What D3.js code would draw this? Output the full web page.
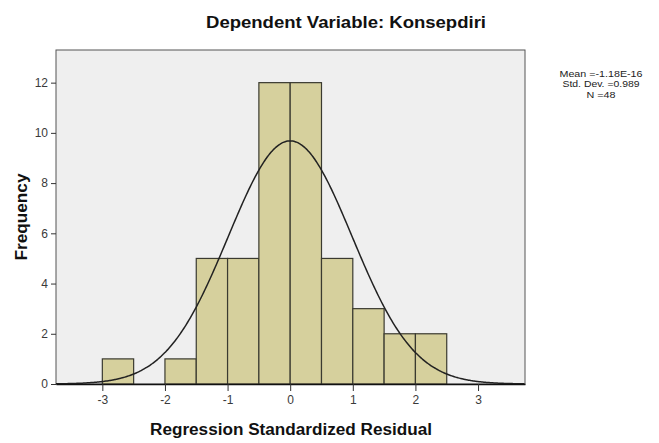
<!DOCTYPE html>
<html><head><meta charset="utf-8">
<script src="https://cdn.jsdelivr.net/npm/d3@7"></script>
<style>body{margin:0;background:#fff;}svg{display:block;font-family:Arial,"Liberation Sans",sans-serif;}</style>
</head><body>
<svg id="c" width="659" height="443"></svg>
<script>
const binStarts = [-3, -2.5, -2, -1.5, -1, -0.5, 0, 0.5, 1, 1.5, 2];
const binCounts = [1, 0, 1, 5, 5, 12, 12, 5, 3, 2, 2];
const binWidth = 0.5;
const xTicks = [-3, -2, -1, 0, 1, 2, 3];
const yTicks = [0, 2, 4, 6, 8, 10, 12];
const statMean = -1.18e-16, statSD = 0.989, statN = 48;
const statLines = ["Mean =-1.18E-16", "Std. Dev. =0.989", "N =48"];
const titleText = "Dependent Variable: Konsepdiri";
const xLabel = "Regression Standardized Residual";
const yLabel = "Frequency";

const svg = d3.select("#c");
const L = 56, R = 525, T = 50, B = 384;
const x = d3.scaleLinear().domain([-3.74, 3.75]).range([L, R]);
const y = d3.scaleLinear().domain([0, 13.3]).range([B, T]);

svg.append("rect").attr("x", L).attr("y", T).attr("width", R - L).attr("height", B - T)
  .attr("fill", "#efefef").attr("stroke", "#555").attr("stroke-width", 1);

svg.selectAll("rect.bar").data(binStarts.map((s, i) => ({s, c: binCounts[i]})).filter(d => d.c > 0))
  .enter().append("rect").attr("class", "bar")
  .attr("x", d => x(d.s)).attr("y", d => y(d.c))
  .attr("width", d => x(d.s + binWidth) - x(d.s)).attr("height", d => y(0) - y(d.c))
  .attr("fill", "#d6d09d").attr("stroke", "#3a3a30").attr("stroke-width", 1.2);

// normal curve from stated mean, sd, N
const pts = d3.range(-3.74, 3.751, 0.02);
const pdf = v => statN * binWidth * Math.exp(-0.5 * Math.pow((v - statMean) / statSD, 2)) / (statSD * Math.sqrt(2 * Math.PI));
svg.append("path").datum(pts)
  .attr("d", d3.line().x(v => x(v)).y(v => y(pdf(v))).curve(d3.curveBasis))
  .attr("fill", "none").attr("stroke", "#222").attr("stroke-width", 1.5);

const fmt = d => String(d);
const xa = svg.append("g").attr("transform", `translate(0,${B})`)
  .call(d3.axisBottom(x).tickValues(xTicks).tickSize(7).tickSizeOuter(0).tickFormat(fmt));
xa.select(".domain").attr("stroke", "#111").attr("stroke-width", 1.6);
xa.selectAll(".tick line").attr("stroke", "#333");
xa.selectAll(".tick text").attr("font-size", 12).attr("fill", "#3a3a3a").attr("dy", "0.85em");

const ya = svg.append("g").attr("transform", `translate(${L},0)`)
  .call(d3.axisLeft(y).tickValues(yTicks).tickSize(5).tickSizeOuter(0).tickFormat(fmt));
ya.select(".domain").remove();
ya.selectAll(".tick line").attr("stroke", "#333");
ya.selectAll(".tick text").attr("font-size", 12).attr("fill", "#3a3a3a");

svg.append("text").attr("x", 346).attr("y", 28).attr("text-anchor", "middle")
  .attr("font-size", 16).attr("font-weight", "bold").attr("fill", "#111")
  .attr("textLength", 280).attr("lengthAdjust", "spacingAndGlyphs").text(titleText);
svg.append("text").attr("x", 291).attr("y", 435).attr("text-anchor", "middle")
  .attr("font-size", 16).attr("font-weight", "bold").attr("fill", "#111")
  .attr("textLength", 282).attr("lengthAdjust", "spacingAndGlyphs").text(xLabel);
svg.append("text").attr("transform", `translate(27,${(T + B) / 2}) rotate(-90)`).attr("text-anchor", "middle")
  .attr("font-size", 16).attr("font-weight", "bold").attr("fill", "#111")
  .attr("textLength", 87).attr("lengthAdjust", "spacingAndGlyphs").text(yLabel);

const statW = [83, 77, 29];
svg.append("g").selectAll("text").data(statLines).enter().append("text")
  .attr("x", 601).attr("y", (d, i) => 77 + i * 10.4).attr("text-anchor", "middle")
  .attr("font-size", 9).attr("fill", "#222")
  .attr("textLength", (d, i) => statW[i]).attr("lengthAdjust", "spacingAndGlyphs").text(d => d);
</script>
</body></html>
